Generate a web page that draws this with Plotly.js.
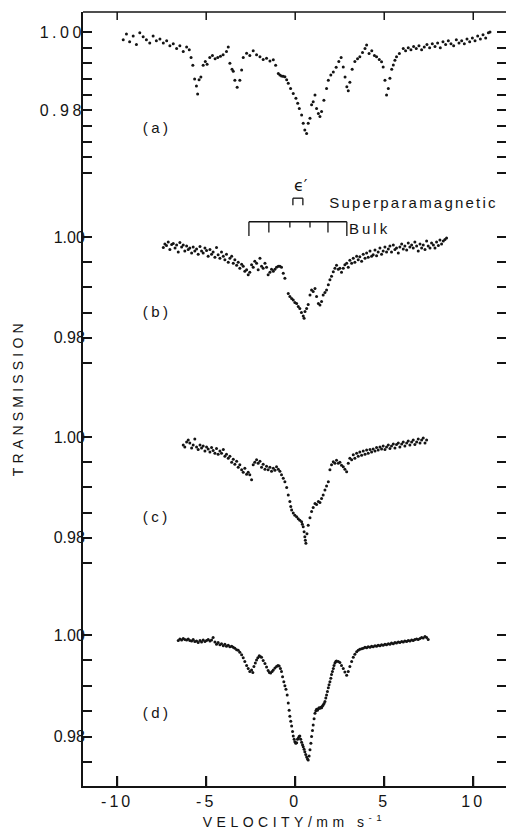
<!DOCTYPE html>
<html>
<head>
<meta charset="utf-8">
<script src="https://cdn.plot.ly/plotly-3.0.1.min.js"></script>
<style>
  html, body { margin:0; padding:0; background:#fff; }
  #chart { width:506px; height:836px; }
  .xtick text { letter-spacing: 3px; }
  .ytick text { letter-spacing: 3.5px; }
  .g-xtitle text { letter-spacing: 4.5px; }
  g.annotation[data-index="0"] text { letter-spacing: 4.2px; }
  g.annotation[data-index="1"] text, g.annotation[data-index="2"] text,
  g.annotation[data-index="3"] text, g.annotation[data-index="4"] text { letter-spacing: 3.5px; }
  g.annotation[data-index="6"] text { letter-spacing: 2.2px; }
  g.annotation[data-index="7"] text { letter-spacing: 3px; }
</style>
</head>
<body>
<div id="chart"></div>
<script>
// ---- data: [velocity (mm/s), transmission] ----
const specA = [
[-9.66,0.9980],[-9.48,0.9995],[-9.30,0.9975],[-9.10,0.9990],[-8.92,0.9968],[-8.73,0.9998],[-8.54,0.9988],[-8.36,0.9980],[-8.17,0.9972],[-7.98,0.9990],
[-7.80,0.9978],[-7.60,0.9982],[-7.41,0.9972],[-7.22,0.9978],[-7.04,0.9965],[-6.85,0.9970],[-6.66,0.9958],[-6.48,0.9965],[-6.29,0.9950],[-6.10,0.9962],
[-5.95,0.9955],[-5.85,0.9935],[-5.75,0.9915],[-5.65,0.9880],[-5.55,0.9862],[-5.48,0.9842],[-5.40,0.9878],[-5.30,0.9885],[-5.17,0.9915],[-5.05,0.9925],
[-4.95,0.9918],[-4.80,0.9935],[-4.65,0.9940],[-4.50,0.9932],[-4.35,0.9935],[-4.20,0.9938],[-4.05,0.9942],[-3.86,0.9950],[-3.76,0.9962],[-3.67,0.9920],
[-3.55,0.9905],[-3.48,0.9900],[-3.39,0.9877],[-3.26,0.9859],[-3.11,0.9877],[-3.01,0.9903],[-2.92,0.9935],[-2.73,0.9946],[-2.55,0.9940],[-2.36,0.9952],
[-2.17,0.9942],[-1.98,0.9937],[-1.80,0.9930],[-1.61,0.9933],[-1.42,0.9926],[-1.23,0.9929],[-1.10,0.9915],[-0.95,0.9894],[-0.86,0.9890],[-0.77,0.9888],
[-0.68,0.9887],[-0.58,0.9886],[-0.48,0.9878],[-0.39,0.9869],[-0.26,0.9856],[-0.11,0.9843],[0.04,0.9831],[0.14,0.9818],[0.23,0.9805],[0.36,0.9788],
[0.45,0.9767],[0.54,0.9750],[0.64,0.9741],[0.73,0.9767],[0.83,0.9780],[0.92,0.9814],[1.01,0.9822],[1.11,0.9839],[1.20,0.9805],[1.30,0.9792],
[1.39,0.9784],[1.48,0.9797],[1.61,0.9826],[1.76,0.9856],[1.86,0.9877],[2.00,0.9890],[2.14,0.9898],[2.30,0.9910],[2.45,0.9925],[2.58,0.9935],
[2.70,0.9911],[2.80,0.9885],[2.90,0.9860],[2.98,0.9850],[3.07,0.9872],[3.20,0.9905],[3.35,0.9925],[3.50,0.9932],[3.63,0.9937],[3.78,0.9948],
[3.92,0.9958],[4.01,0.9967],[4.15,0.9945],[4.30,0.9952],[4.45,0.9940],[4.57,0.9937],[4.72,0.9930],[4.85,0.9924],[4.94,0.9911],[5.04,0.9877],
[5.13,0.9839],[5.23,0.9856],[5.32,0.9882],[5.42,0.9905],[5.51,0.9916],[5.60,0.9928],[5.69,0.9937],[5.85,0.9945],[6.07,0.9958],[6.20,0.9952],
[6.35,0.9960],[6.50,0.9955],[6.65,0.9963],[6.80,0.9958],[6.95,0.9965],[7.10,0.9955],[7.25,0.9962],[7.40,0.9968],[7.55,0.9960],[7.70,0.9970],
[7.85,0.9963],[8.00,0.9972],[8.15,0.9960],[8.30,0.9975],[8.45,0.9968],[8.60,0.9978],[8.75,0.9970],[8.90,0.9965],[9.05,0.9980],[9.20,0.9972],
[9.35,0.9978],[9.50,0.9970],[9.65,0.9982],[9.80,0.9975],[9.95,0.9985],[10.10,0.9978],[10.25,0.9990],[10.40,0.9982],[10.55,0.9993],[10.70,0.9985],
[10.85,0.9998],[10.94,1.0000]
];
const specB = [
[-7.41,0.9979],[-7.32,0.9986],[-7.23,0.9983],[-7.13,0.9990],[-7.04,0.9975],[-6.94,0.9985],[-6.85,0.9987],[-6.75,0.9978],[-6.66,0.9984],[-6.57,0.9970],
[-6.48,0.9989],[-6.38,0.9980],[-6.29,0.9984],[-6.20,0.9972],[-6.10,0.9982],[-6.01,0.9975],[-5.92,0.9978],[-5.82,0.9968],[-5.73,0.9980],[-5.64,0.9972],
[-5.54,0.9976],[-5.45,0.9966],[-5.35,0.9981],[-5.26,0.9972],[-5.17,0.9968],[-5.07,0.9978],[-4.98,0.9973],[-4.89,0.9962],[-4.79,0.9975],[-4.70,0.9966],
[-4.61,0.9970],[-4.51,0.9960],[-4.42,0.9979],[-4.33,0.9965],[-4.23,0.9958],[-4.14,0.9970],[-4.04,0.9962],[-3.95,0.9955],[-3.86,0.9966],[-3.76,0.9950],
[-3.67,0.9958],[-3.57,0.9962],[-3.48,0.9948],[-3.39,0.9955],[-3.29,0.9944],[-3.20,0.9950],[-3.11,0.9938],[-3.01,0.9946],[-2.92,0.9942],[-2.83,0.9932],
[-2.73,0.9935],[-2.64,0.9925],[-2.55,0.9930],[-2.45,0.9945],[-2.36,0.9940],[-2.27,0.9952],[-2.17,0.9948],[-2.08,0.9935],[-1.98,0.9958],[-1.89,0.9942],
[-1.80,0.9938],[-1.70,0.9948],[-1.61,0.9940],[-1.52,0.9925],[-1.42,0.9930],[-1.33,0.9936],[-1.23,0.9932],[-1.14,0.9936],[-1.05,0.9940],[-0.95,0.9942],
[-0.86,0.9942],[-0.77,0.9940],[-0.67,0.9928],[-0.58,0.9918],[-0.39,0.9888],[-0.30,0.9882],[-0.20,0.9878],[-0.11,0.9875],[-0.02,0.9870],[0.08,0.9868],
[0.17,0.9862],[0.26,0.9858],[0.35,0.9850],[0.45,0.9843],[0.50,0.9839],[0.55,0.9852],[0.64,0.9858],[0.73,0.9866],[0.83,0.9885],[0.92,0.9895],
[1.01,0.9892],[1.11,0.9898],[1.20,0.9882],[1.30,0.9868],[1.39,0.9865],[1.48,0.9872],[1.57,0.9885],[1.67,0.9890],[1.76,0.9895],[1.86,0.9905],
[1.95,0.9915],[2.04,0.9922],[2.14,0.9931],[2.23,0.9938],[2.32,0.9944],[2.42,0.9936],[2.51,0.9938],[2.60,0.9930],[2.70,0.9938],[2.79,0.9945],
[2.89,0.9948],[2.98,0.9940],[3.07,0.9954],[3.17,0.9948],[3.26,0.9958],[3.35,0.9950],[3.45,0.9962],[3.54,0.9955],[3.63,0.9961],[3.73,0.9952],
[3.82,0.9966],[3.92,0.9958],[4.01,0.9968],[4.10,0.9960],[4.20,0.9972],[4.29,0.9962],[4.38,0.9965],[4.48,0.9974],[4.57,0.9963],[4.66,0.9970],
[4.76,0.9978],[4.85,0.9966],[4.94,0.9972],[5.04,0.9980],[5.13,0.9970],[5.23,0.9976],[5.32,0.9982],[5.41,0.9970],[5.51,0.9984],[5.60,0.9975],
[5.69,0.9978],[5.79,0.9968],[5.88,0.9980],[5.98,0.9986],[6.07,0.9976],[6.16,0.9982],[6.26,0.9974],[6.35,0.9988],[6.44,0.9980],[6.54,0.9984],
[6.63,0.9978],[6.72,0.9990],[6.82,0.9982],[6.91,0.9972],[7.01,0.9986],[7.10,0.9978],[7.19,0.9984],[7.29,0.9975],[7.38,0.9992],[7.47,0.9982],
[7.57,0.9978],[7.66,0.9988],[7.76,0.9984],[7.85,0.9978],[7.94,0.9990],[8.04,0.9983],[8.13,0.9994],[8.22,0.9986],[8.32,0.9992],[8.41,0.9995],
[8.50,0.9998]
];
const specC = [
[-6.29,0.9984],[-6.20,0.9980],[-6.10,0.9990],[-6.01,0.9994],[-5.92,0.9988],[-5.82,0.9978],[-5.73,0.9984],[-5.64,0.9996],[-5.54,0.9980],[-5.45,0.9975],
[-5.35,0.9984],[-5.26,0.9978],[-5.17,0.9982],[-5.07,0.9972],[-4.98,0.9980],[-4.89,0.9976],[-4.79,0.9970],[-4.70,0.9979],[-4.61,0.9973],[-4.51,0.9968],
[-4.42,0.9977],[-4.33,0.9966],[-4.23,0.9972],[-4.14,0.9968],[-4.04,0.9975],[-3.95,0.9962],[-3.86,0.9966],[-3.76,0.9958],[-3.67,0.9962],[-3.57,0.9950],
[-3.48,0.9956],[-3.39,0.9946],[-3.29,0.9952],[-3.20,0.9940],[-3.11,0.9945],[-3.01,0.9935],[-2.92,0.9930],[-2.83,0.9938],[-2.73,0.9926],[-2.64,0.9930],
[-2.55,0.9925],[-2.45,0.9915],[-2.36,0.9945],[-2.27,0.9950],[-2.17,0.9955],[-2.08,0.9948],[-1.98,0.9952],[-1.89,0.9940],[-1.80,0.9946],[-1.70,0.9936],
[-1.61,0.9942],[-1.52,0.9935],[-1.42,0.9940],[-1.33,0.9932],[-1.23,0.9938],[-1.14,0.9934],[-1.05,0.9941],[-0.95,0.9936],[-0.86,0.9932],[-0.77,0.9925],
[-0.67,0.9918],[-0.58,0.9911],[-0.48,0.9900],[-0.39,0.9885],[-0.30,0.9872],[-0.25,0.9862],[-0.20,0.9855],[-0.11,0.9849],[-0.02,0.9845],[0.08,0.9842],
[0.17,0.9838],[0.26,0.9835],[0.36,0.9832],[0.40,0.9827],[0.45,0.9822],[0.50,0.9812],[0.54,0.9802],[0.57,0.9795],[0.60,0.9789],[0.66,0.9808],
[0.73,0.9825],[0.83,0.9840],[0.92,0.9852],[1.01,0.9860],[1.11,0.9868],[1.20,0.9866],[1.30,0.9872],[1.39,0.9870],[1.48,0.9878],[1.57,0.9885],
[1.67,0.9895],[1.76,0.9903],[1.86,0.9911],[1.95,0.9935],[2.04,0.9945],[2.14,0.9951],[2.23,0.9948],[2.32,0.9954],[2.42,0.9948],[2.51,0.9950],
[2.60,0.9944],[2.70,0.9941],[2.79,0.9936],[2.89,0.9931],[2.98,0.9948],[3.07,0.9958],[3.17,0.9955],[3.26,0.9965],[3.35,0.9958],[3.45,0.9968],
[3.54,0.9962],[3.63,0.9970],[3.73,0.9964],[3.82,0.9972],[3.92,0.9966],[4.01,0.9974],[4.10,0.9968],[4.20,0.9975],[4.29,0.9970],[4.38,0.9976],
[4.48,0.9972],[4.57,0.9979],[4.66,0.9974],[4.76,0.9980],[4.85,0.9976],[4.94,0.9982],[5.04,0.9975],[5.13,0.9980],[5.23,0.9984],[5.32,0.9977],
[5.41,0.9982],[5.51,0.9986],[5.60,0.9978],[5.69,0.9985],[5.79,0.9988],[5.88,0.9980],[5.98,0.9986],[6.07,0.9990],[6.16,0.9982],[6.26,0.9988],
[6.35,0.9992],[6.44,0.9984],[6.54,0.9990],[6.63,0.9994],[6.72,0.9985],[6.82,0.9990],[6.91,0.9996],[7.01,0.9988],[7.10,0.9994],[7.19,0.9998],
[7.29,0.9988],[7.38,0.9994]
];
const specD = [
[-6.57,0.9989],[-6.48,0.9992],[-6.38,0.9990],[-6.29,0.9993],[-6.20,0.9991],[-6.10,0.9990],[-6.01,0.9992],[-5.92,0.9989],[-5.82,0.9988],[-5.73,0.9991],
[-5.64,0.9987],[-5.54,0.9988],[-5.45,0.9985],[-5.35,0.9989],[-5.26,0.9986],[-5.17,0.9990],[-5.07,0.9987],[-4.98,0.9989],[-4.89,0.9991],[-4.79,0.9988],
[-4.70,0.9990],[-4.61,0.9995],[-4.51,0.9986],[-4.42,0.9982],[-4.33,0.9985],[-4.23,0.9981],[-4.14,0.9983],[-4.04,0.9979],[-3.95,0.9982],[-3.86,0.9978],
[-3.76,0.9980],[-3.67,0.9977],[-3.57,0.9978],[-3.48,0.9976],[-3.39,0.9974],[-3.29,0.9971],[-3.20,0.9970],[-3.11,0.9966],[-3.01,0.9961],[-2.92,0.9955],
[-2.83,0.9948],[-2.73,0.9940],[-2.64,0.9934],[-2.55,0.9928],[-2.45,0.9931],[-2.38,0.9926],[-2.32,0.9938],[-2.24,0.9945],[-2.17,0.9951],[-2.10,0.9955],
[-2.02,0.9959],[-1.95,0.9957],[-1.89,0.9956],[-1.80,0.9950],[-1.70,0.9944],[-1.61,0.9937],[-1.52,0.9930],[-1.45,0.9926],[-1.38,0.9925],[-1.30,0.9928],
[-1.23,0.9931],[-1.14,0.9935],[-1.05,0.9938],[-0.97,0.9940],[-0.90,0.9939],[-0.83,0.9934],[-0.77,0.9928],[-0.71,0.9918],[-0.64,0.9908],[-0.58,0.9900],
[-0.52,0.9893],[-0.45,0.9882],[-0.39,0.9866],[-0.34,0.9852],[-0.30,0.9840],[-0.25,0.9830],[-0.20,0.9821],[-0.15,0.9810],[-0.11,0.9801],[-0.06,0.9795],
[-0.02,0.9790],[0.03,0.9787],[0.08,0.9788],[0.13,0.9795],[0.17,0.9797],[0.22,0.9800],[0.26,0.9801],[0.31,0.9795],[0.36,0.9789],[0.41,0.9784],
[0.45,0.9780],[0.50,0.9775],[0.54,0.9770],[0.59,0.9765],[0.64,0.9760],[0.69,0.9756],[0.73,0.9754],[0.78,0.9762],[0.83,0.9774],[0.88,0.9787],
[0.92,0.9800],[0.97,0.9812],[1.01,0.9823],[1.06,0.9835],[1.11,0.9846],[1.16,0.9851],[1.20,0.9854],[1.25,0.9852],[1.30,0.9855],[1.34,0.9857],
[1.39,0.9856],[1.44,0.9858],[1.48,0.9857],[1.53,0.9860],[1.57,0.9862],[1.62,0.9865],[1.67,0.9869],[1.72,0.9876],[1.76,0.9882],[1.81,0.9889],
[1.86,0.9896],[1.90,0.9902],[1.95,0.9908],[2.00,0.9915],[2.04,0.9922],[2.09,0.9928],[2.14,0.9934],[2.18,0.9940],[2.23,0.9945],[2.28,0.9948],
[2.32,0.9949],[2.42,0.9948],[2.51,0.9946],[2.60,0.9940],[2.70,0.9934],[2.79,0.9927],[2.89,0.9921],[2.98,0.9928],[3.07,0.9938],[3.17,0.9948],
[3.26,0.9956],[3.35,0.9962],[3.45,0.9967],[3.54,0.9970],[3.63,0.9972],[3.73,0.9973],[3.82,0.9974],[3.92,0.9976],[4.01,0.9975],[4.10,0.9977],
[4.20,0.9976],[4.29,0.9978],[4.38,0.9977],[4.48,0.9979],[4.57,0.9978],[4.66,0.9980],[4.76,0.9979],[4.85,0.9981],[4.94,0.9980],[5.04,0.9982],
[5.13,0.9981],[5.23,0.9983],[5.32,0.9982],[5.41,0.9984],[5.51,0.9983],[5.60,0.9985],[5.69,0.9984],[5.79,0.9986],[5.88,0.9985],[5.98,0.9987],
[6.07,0.9986],[6.16,0.9988],[6.26,0.9987],[6.35,0.9989],[6.44,0.9988],[6.54,0.9990],[6.63,0.9989],[6.72,0.9991],[6.82,0.9992],[6.91,0.9991],
[7.01,0.9993],[7.10,0.9995],[7.19,0.9994],[7.29,0.9997],[7.38,0.9995],[7.47,0.9991]
];
const panelLabels = ['(a)', '(b)', '(c)', '(d)'];
const xTickVals = [-10, -5, 0, 5, 10];
const xTickText = ['-10', '-5', '0', '5', '10'];
const yTickValsA = [1.000, 0.996, 0.992, 0.988, 0.984, 0.980, 0.976, 0.972, 0.968, 0.964];
const yTickTextA = ['1.00', '', '', '', '', '0.98', '', '', '', ''];
const yTickValsB = [1.000, 0.995, 0.990, 0.985, 0.980, 0.975];
const yTickTextB = ['1.00', '', '', '', '0.98', ''];
const bulkLines = [-2.60, -1.48, -0.30, 0.83, 1.84, 2.90];   // bulk sextet line positions
const bulkDepth = [3, 2, 1, 1, 2, 3];                         // relative tick lengths
const superLines = [-0.13, 0.43];                             // superparamagnetic doublet

// ---- chart ----
const FONT = 'Liberation Sans, Arial, Helvetica, sans-serif';
const INK = '#141414';
const XR = [-11.92, 11.84];

const specs = [specA, specB, specC, specD];
const yNames = ['y', 'y2', 'y3', 'y4'];
const traces = specs.map((s, i) => ({
  type: 'scatter', mode: 'markers',
  x: s.map(p => p[0]), y: s.map(p => p[1]),
  xaxis: 'x', yaxis: yNames[i],
  marker: {size: 3, color: INK},
  cliponaxis: false, hoverinfo: 'skip'
}));

const domains = [[0.78811, 1], [0.49871, 0.78811], [0.24289, 0.49871], [0, 0.24289]];
const ranges = [[0.96324, 1.00511], [0.96766, 1.01210], [0.96806, 1.00734], [0.97028, 1.00728]];
const tv = [yTickValsA, yTickValsB, yTickValsB, yTickValsB];
const tt = [yTickTextA, yTickTextB, yTickTextB, yTickTextB];

const layout = {
  width: 506, height: 836,
  margin: {l: 83, r: 0, t: 12, b: 50},
  paper_bgcolor: '#fff', plot_bgcolor: 'rgba(0,0,0,0)',
  showlegend: false,
  font: {family: FONT, size: 15, color: INK},
  xaxis: {
    range: XR, anchor: 'y4',
    tickmode: 'array', tickvals: xTickVals, ticktext: xTickText,
    ticks: 'inside', ticklen: 10, tickwidth: 1.8, tickcolor: INK,
    showline: true, linewidth: 2, linecolor: INK,
    showgrid: false, zeroline: false,
    tickfont: {family: FONT, size: 16, color: INK},
    ticklabelstandoff: 0,
    title: {text: 'VELOCITY/mm s<sup>-1</sup>', font: {family: FONT, size: 14, color: INK}, standoff: 8}
  },
  annotations: [],
  shapes: []
};

for (let i = 0; i < 4; i++) {
  const k = i === 0 ? '' : String(i + 1);
  layout['yaxis' + k] = {
    domain: domains[i], range: ranges[i], anchor: 'x',
    tickmode: 'array', tickvals: tv[i], ticktext: tt[i],
    ticks: 'inside', ticklen: 9, tickwidth: 1.5, tickcolor: INK,
    showline: true, linewidth: 2, linecolor: INK, mirror: 'ticks',
    showgrid: false, zeroline: false,
    tickfont: {family: FONT, size: 16, color: INK},
    ticklabelstandoff: -7
  };
}

// top frame line, and tick marks at the velocity tick values on the top and bottom frame edges
layout.shapes.push({type: 'line', xref: 'paper', yref: 'paper', x0: 0, x1: 1, y0: 1, y1: 1, line: {color: INK, width: 1.6}});
const yBottom = ranges[3][0];
const bottomTickLen = 10 / 5080;
xTickVals.forEach(v => {
  layout.shapes.push({type: 'line', xref: 'x', yref: 'paper', x0: v, x1: v, y0: 1, y1: 1 - 8 / 774, line: {color: INK, width: 1.5}});
  layout.shapes.push({type: 'line', xref: 'x', yref: 'y4', x0: v, x1: v, y0: yBottom, y1: yBottom + bottomTickLen, line: {color: INK, width: 2}});
});

// y title
layout.annotations.push({
  xref: 'paper', yref: 'paper', x: -0.1537, y: 0.5026,
  text: 'TRANSMISSION', textangle: -90, showarrow: false,
  xanchor: 'center', yanchor: 'middle',
  font: {family: FONT, size: 14, color: INK}
});
// panel labels
const labelY = [0.97575, 0.98512, 0.98413, 0.98484];
panelLabels.forEach((t, i) => {
  layout.annotations.push({
    xref: 'x', yref: yNames[i], x: -7.77, y: labelY[i], text: t, showarrow: false,
    xanchor: 'center', yanchor: 'middle', font: {family: FONT, size: 15, color: INK}
  });
});
// epsilon'
layout.annotations.push({
  xref: 'x', yref: 'y2', x: 0.32, y: 1.0103, text: 'ϵ′', showarrow: false,
  xanchor: 'center', yanchor: 'middle', font: {family: 'DejaVu Sans, ' + FONT, size: 16, color: INK}
});
layout.annotations.push({
  xref: 'x', yref: 'y2', x: 6.67, y: 1.0069, text: 'Superparamagnetic', showarrow: false,
  xanchor: 'center', yanchor: 'middle', font: {family: FONT, size: 15, color: INK}
});
layout.annotations.push({
  xref: 'x', yref: 'y2', x: 4.22, y: 1.0016, text: 'Bulk', showarrow: false,
  xanchor: 'center', yanchor: 'middle', font: {family: FONT, size: 15, color: INK}
});

// bulk bracket
const bulkTop = 1.0030;
const depthVal = {1: 1.0019, 2: 1.0009, 3: 1.0002};
layout.shapes.push({type: 'line', xref: 'x', yref: 'y2', x0: bulkLines[0], x1: bulkLines[bulkLines.length - 1],
  y0: bulkTop, y1: bulkTop, line: {color: INK, width: 1.5}});
bulkLines.forEach((v, j) => {
  layout.shapes.push({type: 'line', xref: 'x', yref: 'y2', x0: v, x1: v, y0: bulkTop, y1: depthVal[bulkDepth[j]],
    line: {color: INK, width: 1.3}});
});
// superparamagnetic bracket
const supTop = 1.0077, supBot = 1.0063;
layout.shapes.push({type: 'line', xref: 'x', yref: 'y2', x0: superLines[0], x1: superLines[1], y0: supTop, y1: supTop, line: {color: INK, width: 1.3}});
superLines.forEach(v => {
  layout.shapes.push({type: 'line', xref: 'x', yref: 'y2', x0: v, x1: v, y0: supTop, y1: supBot, line: {color: INK, width: 1.3}});
});

Plotly.newPlot('chart', traces, layout, {displayModeBar: false, responsive: false});
</script>
</body>
</html>
